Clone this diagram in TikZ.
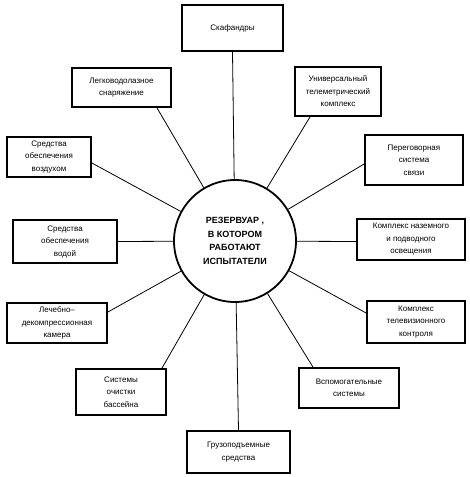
\documentclass[tikz,border=0pt]{standalone}
\usepackage{fontspec}
\setmainfont{Liberation Sans}
\begin{document}
\begin{tikzpicture}[x=1pt,y=1pt,
  box/.style={draw, line width=1.8pt, inner sep=1pt, align=center,
    font=\fontsize{8}{12.5}\selectfont},
  hub/.style={draw, circle, line width=1.8pt, inner sep=0pt, align=center,
    minimum size=122pt, font=\bfseries\fontsize{9}{13.5}\selectfont},
  spoke/.style={line width=0.8pt}]
\useasboundingbox (0,0) rectangle (470,-477);
\node[hub] (c) at (235,-241) {РЕЗЕРВУАР ,\\В КОТОРОМ\\РАБОТАЮТ\\ИСПЫТАТЕЛИ};
\node[box, minimum width=101pt, minimum height=46pt] (b1) at (232.5,-28) {Скафандры};
\node[box, minimum width=99pt, minimum height=39pt] (b2) at (121.5,-87.5) {Легководолазное\\снаряжение};
\node[box, minimum width=86pt, minimum height=49pt] (b3) at (338,-91.5) {Универсальный\\телеметрический\\комплекс};
\node[box, minimum width=84pt, minimum height=40pt] (b4) at (49,-157) {Средства\\обеспечения\\воздухом};
\node[box, minimum width=98pt, minimum height=50pt] (b5) at (414,-160) {Переговорная\\система\\связи};
\node[box, minimum width=104pt, minimum height=43pt] (b6) at (65,-241.5) {Средства\\обеспечения\\водой};
\node[box, minimum width=108pt, minimum height=41pt] (b7) at (411,-239.5) {Комплекс наземного\\и подводного\\освещения};
\node[box, minimum width=100pt, minimum height=40pt] (b8) at (57,-323) {Лечебно–\\декомпрессионная\\камера};
\node[box, minimum width=98pt, minimum height=42pt] (b9) at (416,-322) {Комплекс\\телевизионного\\контроля};
\node[box, minimum width=90pt, minimum height=46pt] (b10) at (121,-392) {Системы\\очистки\\бассейна};
\node[box, minimum width=100pt, minimum height=40pt] (b11) at (349,-388) {Вспомогательные\\системы};
\node[box, minimum width=103pt, minimum height=42pt] (b12) at (238.5,-452) {Грузоподъемные\\средства};
\draw[spoke] (b1.south) -- (c);
\draw[spoke] ([xshift=35.5pt]b2.south) -- (c);
\draw[spoke] ([xshift=-28pt]b3.south) -- (c);
\draw[spoke] ([yshift=-6pt]b4.east) -- (c);
\draw[spoke] ([yshift=-4pt]b5.west) -- (c);
\draw[spoke] (b6.east) -- (c);
\draw[spoke] ([yshift=-2pt]b7.west) -- (c);
\draw[spoke] ([yshift=11pt]b8.east) -- (c);
\draw[spoke] ([yshift=9pt]b9.west) -- (c);
\draw[spoke] ([xshift=41pt]b10.north) -- (c);
\draw[spoke] ([xshift=-36pt]b11.north) -- (c);
\draw[spoke] (b12.north) -- (c);
\end{tikzpicture}
\end{document}
